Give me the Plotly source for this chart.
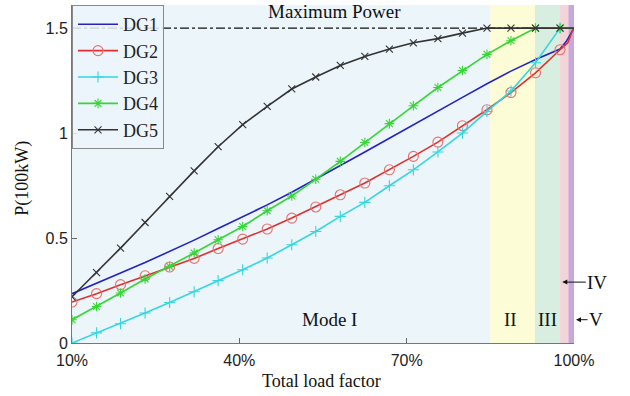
import plotly.graph_objects as go

# Total load factor (%) at the sampled operating points
load = [10.0, 14.4, 18.7, 23.1, 27.5, 31.9, 36.2, 40.6, 45.0, 49.4, 53.7,
        58.1, 62.5, 66.9, 71.2, 75.6, 80.0, 84.4, 88.7, 93.1, 97.5]

# Output power of each generator (100 kW)
dg1 = [0.235, 0.283, 0.333, 0.383, 0.436, 0.490, 0.545, 0.600, 0.658, 0.718, 0.780,
       0.845, 0.910, 0.975, 1.040, 1.105, 1.170, 1.235, 1.295, 1.350, 1.400]
dg2 = [0.195, 0.235, 0.278, 0.320, 0.362, 0.403, 0.450, 0.495, 0.543, 0.595, 0.648,
       0.706, 0.762, 0.825, 0.889, 0.957, 1.035, 1.111, 1.193, 1.287, 1.397]
dg3 = [0.000, 0.048, 0.092, 0.143, 0.193, 0.244, 0.297, 0.349, 0.405, 0.468, 0.531,
       0.603, 0.670, 0.749, 0.825, 0.910, 1.000, 1.103, 1.200, 1.335, 1.500]
dg4 = [0.111, 0.174, 0.238, 0.305, 0.365, 0.429, 0.492, 0.555, 0.630, 0.700, 0.780,
       0.865, 0.955, 1.045, 1.130, 1.217, 1.298, 1.375, 1.440, 1.500, 1.500]
dg5 = [0.220, 0.335, 0.452, 0.574, 0.698, 0.820, 0.935, 1.040, 1.127, 1.210, 1.267,
       1.322, 1.365, 1.400, 1.430, 1.450, 1.476, 1.500, 1.500, 1.500, 1.500]

# Final approach to full load
tail_x = {"DG1": [98.6, 99.4, 100.0], "DG2": [98.9, 99.6, 100.0],
          "DG3": [100.0], "DG4": [100.0], "DG5": [100.0]}
tail_y = {"DG1": [1.436, 1.470, 1.500], "DG2": [1.430, 1.480, 1.500],
          "DG3": [1.500], "DG4": [1.500], "DG5": [1.500]}

max_power = 1.5

# Operating-mode regions along the load axis
modes = ["Mode I", "II", "III", "IV", "V"]
mode_edges = [10, 85, 93, 97.5, 99, 100]
mode_colors = ["#ebf5fa", "#fcfcd6", "#d8eee1", "#f3d5d9", "#c7a8d8"]

xticks = [10, 40, 70, 100]
xticklabels = ["10%", "40%", "70%", "100%"]
yticks = [0, 0.5, 1, 1.5]
yticklabels = ["0", "0.5", "1", "1.5"]

SERIF = "Liberation Serif, Times New Roman, serif"
SANS = "Liberation Sans, Arial, sans-serif"

series = [
    ("DG1", dg1, "#2323c4", None, None, None),
    ("DG2", dg2, "#e0302e", "circle-open", 10, "#e8706c"),
    ("DG3", dg3, "#35d6e0", "cross-thin-open", 8, "#35d6e0"),
    ("DG4", dg4, "#36d636", "asterisk-open", 8, "#36d636"),
    ("DG5", dg5, "#333333", "x-thin-open", 7, "#333333"),
]

fig = go.Figure()

# Rated power limit
fig.add_trace(go.Scatter(
    x=[load[0], 100], y=[max_power, max_power], mode="lines",
    line=dict(color="#111111", width=1.3, dash="dashdot"),
    showlegend=False, hoverinfo="skip"))

for name, vals, color, symbol, size, mcolor in series:
    if symbol is None:
        fig.add_trace(go.Scatter(
            x=load + tail_x[name], y=vals + tail_y[name], mode="lines", name=name,
            line=dict(color=color, width=1.6)))
    else:
        fig.add_trace(go.Scatter(
            x=[load[-1]] + tail_x[name], y=[vals[-1]] + tail_y[name], mode="lines",
            line=dict(color=color, width=1.6), showlegend=False, hoverinfo="skip"))
        fig.add_trace(go.Scatter(
            x=load, y=vals, mode="lines+markers", name=name,
            line=dict(color=color, width=1.6),
            marker=dict(symbol=symbol, size=size, color=mcolor,
                        line=dict(color=mcolor, width=1.1))))

# Shaded mode regions
for i, c in enumerate(mode_colors):
    fig.add_shape(type="rect", xref="x", yref="paper",
                  x0=mode_edges[i], x1=mode_edges[i + 1], y0=0, y1=1,
                  fillcolor=c, line=dict(width=0), layer="below")

TXT = dict(family=SERIF, size=19, color="#111111")
annotations = [
    dict(x=57.1, y=1.578, text="Maximum Power", showarrow=False, font=TXT),
    dict(x=56.2, y=0.111, text=modes[0], showarrow=False, font=TXT),
    dict(x=88.7, y=0.111, text=modes[1], showarrow=False, font=TXT),
    dict(x=95.3, y=0.111, text=modes[2], showarrow=False, font=TXT),
    # pointers to the two narrow regions at full load
    dict(xref="paper", x=0.9767, y=0.29, text=modes[3], showarrow=True, ax=35, ay=0,
         arrowhead=2, arrowsize=1, arrowwidth=1, arrowcolor="#111111", font=TXT),
    dict(xref="paper", x=1.004, y=0.111, text=modes[4], showarrow=True, ax=20, ay=0,
         arrowhead=2, arrowsize=1, arrowwidth=1, arrowcolor="#111111", font=TXT),
    dict(xref="paper", yref="paper", x=-0.1, y=0.488, text="P(100kW)",
         textangle=-90, showarrow=False, xanchor="center", yanchor="middle",
         font=dict(family=SERIF, size=18, color="#111111")),
    dict(xref="paper", yref="paper", x=0.498, y=-0.112, text="Total load factor",
         showarrow=False, xanchor="center", yanchor="middle",
         font=dict(family=SERIF, size=18, color="#111111")),
]
for a in annotations:
    a.setdefault("xref", "x")
    a.setdefault("yref", "y")
    fig.add_annotation(**a)

fig.update_layout(
    width=630, height=396,
    margin=dict(l=72, r=56, t=5, b=53),
    paper_bgcolor="white", plot_bgcolor="white",
    showlegend=True,
    legend=dict(x=0, y=1, xanchor="left", yanchor="top",
                bgcolor="rgba(236,245,250,0.85)", bordercolor="#8a8a8a", borderwidth=1,
                font=dict(family=SERIF, size=18, color="#222222"),
                tracegroupgap=0, itemwidth=40),
    xaxis=dict(range=[10, 100], tickmode="array", tickvals=xticks, ticktext=xticklabels,
               ticks="inside", ticklen=5, tickcolor="#666666", showgrid=False,
               zeroline=False, showline=True, linecolor="#777777", linewidth=1,
               ticklabelstandoff=3,
               tickfont=dict(family=SANS, size=16, color="#222222")),
    yaxis=dict(range=[0, 1.61], tickmode="array", tickvals=yticks, ticktext=yticklabels,
               ticks="inside", ticklen=5, tickcolor="#666666", showgrid=False,
               zeroline=False, showline=True, linecolor="#777777", linewidth=1,
               tickfont=dict(family=SANS, size=16, color="#222222")),
)

fig.write_html("out.html")
